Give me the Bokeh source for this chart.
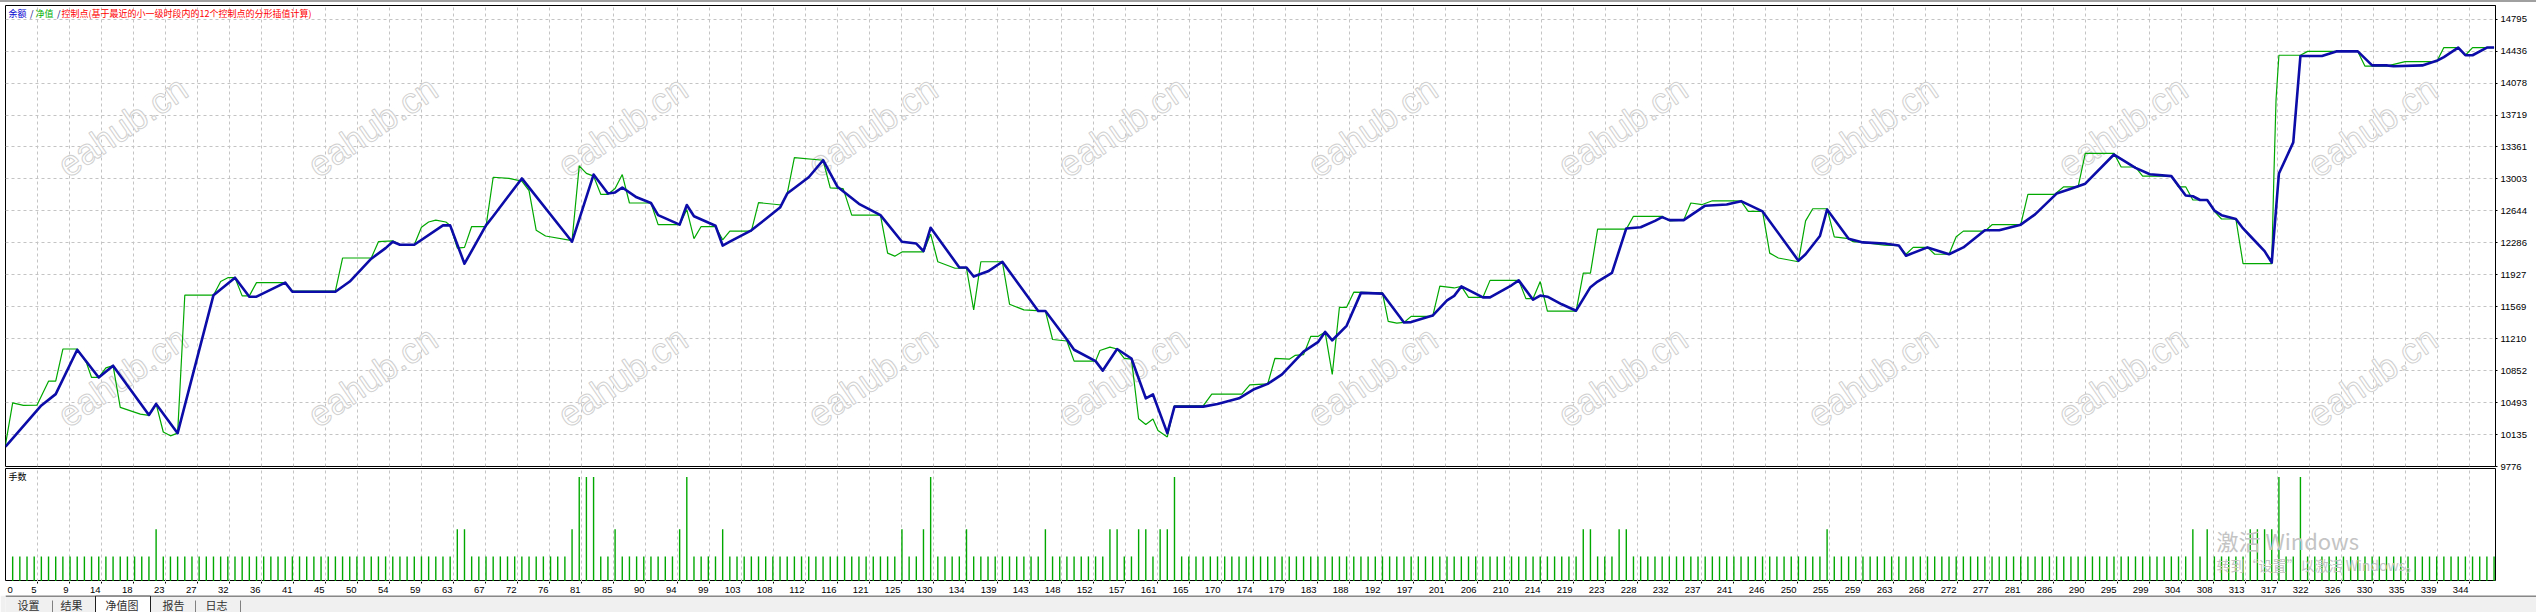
from bokeh.plotting import figure
from bokeh.layouts import column
from bokeh.models import Range1d, FixedTicker, Spacer
from bokeh.core.properties import value
from bokeh.embed import file_html
from bokeh.resources import INLINE

# x-axis tick labels (trade number at each vertical grid line)
x_labels = ["0", "5", "9", "14", "18", "23", "27", "32", "36", "41", "45", "50", "54", "59", "63", "67",
            "72", "76", "81", "85", "90", "94", "99", "103", "108", "112", "116", "121", "125", "130",
            "134", "139", "143", "148", "152", "157", "161", "165", "170", "174", "179", "183", "188",
            "192", "197", "201", "206", "210", "214", "219", "223", "228", "232", "237", "241", "246",
            "250", "255", "259", "263", "268", "272", "277", "281", "286", "290", "295", "299", "304",
            "308", "313", "317", "322", "326", "330", "335", "339", "344"]

# right axis ticks
y_ticks = [9776, 10135, 10493, 10852, 11210, 11569, 11927, 12286, 12644, 13003, 13361, 13719, 14078,
           14436, 14795]

# balance (blue), trade number -> value
bal_t = [0, 5, 7, 10, 13, 15, 20, 21, 24, 29,
         32, 34, 35, 39, 40, 46, 48, 51, 53, 54,
         55, 57, 61, 62, 64, 67, 68, 70, 72, 79,
         82, 84, 85, 86, 88, 90, 91, 94, 95, 96,
         99, 100, 101, 104, 106, 108, 109, 112, 114, 116,
         119, 122, 125, 127, 128, 129, 133, 134, 135, 137,
         139, 141, 144, 145, 148, 149, 152, 153, 155, 157,
         159, 160, 162, 163, 167, 169, 172, 174, 176, 178,
         181, 183, 184, 185, 187, 189, 192, 195, 196, 199,
         201, 202, 203, 206, 207, 210, 211, 213, 214, 215,
         217, 219, 221, 222, 224, 226, 228, 230, 231, 232,
         234, 237, 240, 242, 245, 250, 251, 253, 254, 257,
         259, 262, 264, 265, 268, 271, 273, 276, 278, 281,
         283, 286, 288, 290, 294, 297, 299, 302, 304, 305,
         306, 307, 308, 309, 311, 312, 313, 315, 316, 317,
         319, 320, 323, 325, 328, 330, 332, 333, 337, 339,
         340, 342, 343, 344, 346, 347]
bal_v = [10000, 10461, 10588, 11086, 10775, 10907, 10354, 10478, 10150, 11698,
         11894, 11681, 11681, 11839, 11737, 11737, 11851, 12107, 12226, 12298,
         12264, 12264, 12481, 12481, 12051, 12481, 12583, 12796, 13008, 12298,
         13051, 12838, 12851, 12906, 12796, 12732, 12596, 12489, 12710, 12583,
         12477, 12255, 12298, 12426, 12553, 12681, 12838, 13021, 13212, 12915,
         12723, 12596, 12298, 12277, 12192, 12455, 12009, 12009, 11907, 11966,
         12073, 11851, 11520, 11520, 11201, 11086, 10958, 10852, 11094, 10988,
         10541, 10584, 10150, 10448, 10448, 10478, 10541, 10639, 10703, 10810,
         11065, 11171, 11286, 11192, 11354, 11724, 11715, 11392, 11396, 11469,
         11639, 11690, 11796, 11673, 11673, 11809, 11864, 11647, 11694, 11681,
         11596, 11524, 11788, 11851, 11949, 12447, 12460, 12532, 12574, 12540,
         12540, 12702, 12715, 12753, 12638, 12085, 12157, 12362, 12659, 12332,
         12290, 12277, 12255, 12141, 12234, 12157, 12234, 12426, 12426, 12489,
         12604, 12838, 12893, 12949, 13276, 13127, 13055, 13034, 12817, 12808,
         12766, 12766, 12647, 12596, 12553, 12447, 12362, 12192, 12064, 13063,
         13412, 14382, 14382, 14433, 14433, 14276, 14276, 14267, 14276, 14327,
         14369, 14476, 14390, 14390, 14476, 14476]

# equity (green)
eq_t = [0, 1, 2.5, 4.4, 6, 7, 8, 10, 11.3, 12,
        13, 14, 15, 16, 18.8, 20, 21, 22, 23, 24,
        24.8, 25, 29, 30, 31, 32, 33, 34, 35, 39,
        40, 46, 47, 51, 52, 54, 55, 57, 58, 59,
        60, 61.4, 62, 63, 64, 65, 67, 68, 70.2, 72,
        73, 74, 75.3, 79, 80, 81, 82, 83, 84, 85,
        86, 87, 90, 91, 94, 95, 96, 97, 99, 100,
        101, 104, 105, 108.2, 109, 110, 114, 115, 116.8, 118,
        122, 123, 124, 125, 128, 129, 130, 132.4, 134, 135,
        136, 139, 140, 142, 145, 146, 148, 149, 152, 152.6,
        154, 155, 156, 157, 158, 159, 160, 160.7, 162, 163,
        167, 168.2, 172.4, 173.5, 176, 177, 179, 179.8, 181, 182,
        183, 184, 185, 186, 187, 188, 192, 192.8, 194, 195,
        196, 199, 200, 202, 203, 204, 206, 207, 211, 212,
        213, 214, 215, 219, 220, 221, 222, 226, 227, 231,
        232, 234, 235, 236.6, 238, 241, 242, 243, 245, 246,
        247.2, 250, 251, 252, 254, 255, 257, 257.6, 259, 262,
        264, 265, 266, 268, 269, 271, 272, 273, 276, 277, 281,
        282, 285.7, 287, 289, 290, 294, 295, 297, 298, 302,
        303, 304, 305, 307, 308, 309, 311, 312, 316, 316.3,
        316.6, 317, 320, 321, 328, 329, 332, 334.6, 339, 340,
        342, 343, 344, 347]
eq_v = [10020, 10490, 10461, 10465, 10733, 10733, 11094, 11094, 10937, 10775,
        10775, 10882, 10907, 10439, 10363, 10350, 10478, 10163, 10120, 10150,
        11384, 11698, 11698, 11851, 11894, 11894, 11690, 11690, 11839, 11839,
        11745, 11745, 12115, 12115, 12298, 12307, 12264, 12264, 12460, 12519,
        12540, 12519, 12481, 12226, 12234, 12468, 12468, 13021, 13008, 12978,
        12872, 12426, 12362, 12311, 13149, 13064, 13034, 12830, 12830, 12894,
        13051, 12732, 12732, 12489, 12489, 12659, 12332, 12468, 12468, 12319,
        12417, 12417, 12736, 12710, 12838, 13242, 13212, 12902, 12893, 12596,
        12596, 12170, 12136, 12183, 12183, 12383, 12073, 12000, 12000, 11533,
        12073, 12073, 11597, 11533, 11520, 11201, 11184, 10958, 10958, 11077,
        11116, 11094, 10988, 10980, 10312, 10248, 10308, 10180, 10108, 10456,
        10456, 10588, 10588, 10692, 10703, 10988, 10980, 11022, 11031, 11235,
        11235, 11286, 10810, 11562, 11562, 11732, 11724, 11405, 11384, 11392,
        11460, 11460, 11800, 11779, 11796, 11673, 11673, 11864, 11864, 11660,
        11660, 11851, 11520, 11520, 11945, 11945, 12439, 12439, 12583, 12583,
        12532, 12540, 12732, 12715, 12757, 12757, 12753, 12638, 12638, 12170,
        12115, 12073, 12532, 12668, 12668, 12353, 12332, 12298, 12290, 12260,
        12255, 12157, 12234, 12234, 12157, 12157, 12353, 12417, 12417, 12489, 12489,
        12829, 12829, 12914, 12914, 13289, 13289, 13136, 13136, 13034, 13034,
        12914, 12914, 12766, 12766, 12638, 12553, 12553, 12051, 12051, 13042,
        13893, 14390, 14390, 14433, 14433, 14267, 14267, 14318, 14318, 14476,
        14476, 14390, 14476, 14476]

# lot size of trades 1..347
lots = [0.12, 0.12, 0.12, 0.12, 0.12, 0.12, 0.12, 0.12, 0.12, 0.12, 0.12, 0.12, 0.12, 0.12, 0.12, 0.12, 0.12, 0.12, 0.12, 0.12,
        0.25, 0.12, 0.12, 0.12, 0.12, 0.12, 0.12, 0.12, 0.12, 0.12, 0.12, 0.12, 0.12, 0.12, 0.12, 0.12, 0.12, 0.12, 0.12, 0.12,
        0.12, 0.12, 0.12, 0.12, 0.12, 0.12, 0.12, 0.12, 0.12, 0.12, 0.12, 0.12, 0.12, 0.12, 0.12, 0.12, 0.12, 0.12, 0.12, 0.12,
        0.12, 0.12, 0.25, 0.25, 0.12, 0.12, 0.12, 0.12, 0.12, 0.12, 0.12, 0.12, 0.12, 0.12, 0.12, 0.12, 0.12, 0.12, 0.25, 0.5,
        0.5, 0.5, 0.12, 0.12, 0.25, 0.12, 0.12, 0.12, 0.12, 0.12, 0.12, 0.12, 0.12, 0.25, 0.5, 0.12, 0.12, 0.12, 0.12, 0.25,
        0.12, 0.12, 0.12, 0.12, 0.12, 0.12, 0.12, 0.12, 0.12, 0.12, 0.12, 0.12, 0.12, 0.12, 0.12, 0.12, 0.12, 0.12, 0.12, 0.12,
        0.12, 0.12, 0.12, 0.12, 0.25, 0.12, 0.12, 0.25, 0.5, 0.12, 0.12, 0.12, 0.12, 0.25, 0.12, 0.12, 0.12, 0.12, 0.12, 0.12,
        0.12, 0.12, 0.12, 0.12, 0.25, 0.12, 0.12, 0.12, 0.12, 0.12, 0.12, 0.12, 0.12, 0.25, 0.25, 0.12, 0.12, 0.25, 0.25, 0.12,
        0.25, 0.25, 0.5, 0.12, 0.12, 0.12, 0.12, 0.12, 0.12, 0.12, 0.12, 0.12, 0.12, 0.12, 0.12, 0.12, 0.12, 0.12, 0.12, 0.12,
        0.12, 0.12, 0.12, 0.12, 0.12, 0.12, 0.12, 0.12, 0.12, 0.12, 0.12, 0.12, 0.12, 0.12, 0.12, 0.12, 0.12, 0.12, 0.12, 0.12,
        0.12, 0.12, 0.12, 0.12, 0.12, 0.12, 0.12, 0.12, 0.12, 0.12, 0.12, 0.12, 0.12, 0.12, 0.12, 0.12, 0.12, 0.12, 0.12, 0.25,
        0.25, 0.12, 0.12, 0.12, 0.25, 0.25, 0.12, 0.12, 0.12, 0.12, 0.12, 0.12, 0.12, 0.12, 0.12, 0.12, 0.12, 0.12, 0.12, 0.12,
        0.12, 0.12, 0.12, 0.12, 0.12, 0.12, 0.12, 0.12, 0.12, 0.12, 0.12, 0.12, 0.12, 0.25, 0.12, 0.12, 0.12, 0.12, 0.12, 0.12,
        0.12, 0.12, 0.12, 0.12, 0.12, 0.12, 0.12, 0.12, 0.12, 0.12, 0.12, 0.12, 0.12, 0.12, 0.12, 0.12, 0.12, 0.12, 0.12, 0.12,
        0.12, 0.12, 0.12, 0.12, 0.12, 0.12, 0.12, 0.12, 0.12, 0.12, 0.12, 0.12, 0.12, 0.12, 0.12, 0.12, 0.12, 0.12, 0.12, 0.12,
        0.12, 0.12, 0.12, 0.12, 0.25, 0.12, 0.25, 0.12, 0.12, 0.12, 0.12, 0.12, 0.25, 0.25, 0.25, 0.25, 0.5, 0.12, 0.12, 0.5,
        0.12, 0.12, 0.12, 0.12, 0.12, 0.12, 0.12, 0.12, 0.12, 0.12, 0.12, 0.12, 0.12, 0.12, 0.12, 0.12, 0.12, 0.12, 0.12, 0.12,
        0.12, 0.12, 0.12, 0.12, 0.12, 0.12, 0.12]

legend_parts = ["余额", "/", "净值", "/", "控制点(基于最近的小一级时段内的12个控制点的分形插值计算)"]
legend_colors = ["#0000d0", "#000080", "#00b000", "#000080", "#ff0000"]
legend_px = [8, 29.5, 35, 56.5, 61]

tab_names = ["设置", "结果", "净值图", "报告", "日志"]
tab_px = [12, 55, 100, 157, 200]
tab_sep_px = [47, 190, 235]

BLUE = "#0c0ca8"
GREEN = "#00a800"
GRIDC = "#c4c4c4"
NUM_FONT = "Liberation Sans"
CJK_FONT = "Noto Sans CJK SC"

FRAME_W = 2490
Y0, Y1 = 9776, 14948
X_END = 347.2
PX_PER_TRADE = FRAME_W / X_END
GRID_STEP = 32 / PX_PER_TRADE
LOT_TOP = 0.5407

grid_x = [k * GRID_STEP for k in range(len(x_labels))]
xr = Range1d(0, X_END)


def tx(px):
    # screen x of the reference -> trade number
    return (px - 5) / PX_PER_TRADE


def vy(py):
    return Y1 - (py - 5) * (Y1 - Y0) / 461


def lvy(py):
    return (581 - py) * LOT_TOP / 113


def base_fig(h, yr, **kw):
    f = figure(frame_width=FRAME_W, frame_height=h, x_range=xr, y_range=yr,
               x_axis_location=None, min_border_left=5, min_border_right=41,
               output_backend="svg", toolbar_location=None,
               outline_line_color="black", background_fill_color="white", **kw)
    return f


# main panel (bottom border is taller so the "9776" label is not cut; the lots panel overlaps it)
main = base_fig(461, Range1d(Y0, Y1), y_axis_location="right", min_border_top=3, min_border_bottom=8,
                border_fill_color="white")
main.xgrid.ticker = FixedTicker(ticks=grid_x)
main.ygrid.ticker = FixedTicker(ticks=y_ticks)
for g in (main.xgrid, main.ygrid):
    g.grid_line_color = GRIDC
    g.grid_line_dash = "3 3"
ax = main.yaxis[0]
ax.ticker = FixedTicker(ticks=y_ticks)
ax.major_label_text_font = NUM_FONT
ax.major_label_text_font_size = "9.5px"
ax.major_label_text_color = "black"
ax.major_tick_out = 2
ax.major_tick_in = 0
ax.minor_tick_out = 0
ax.minor_tick_in = 0
ax.major_label_standoff = 3
ax.axis_line_color = "black"

wm_x = [tx(122 + 250 * i) for i in range(10) for r in (126, 376)]
wm_y = [vy(r) for i in range(10) for r in (126, 376)]
main.text(wm_x, wm_y, text=["eahub.cn"] * len(wm_x), angle=0.6,
          text_font=value("Liberation Sans"), text_font_size="36px",
          text_color="white", text_outline_color="#d0d0d0",
          text_align="center", text_baseline="middle")

main.line(eq_t, eq_v, line_color=GREEN, line_width=1.2)
main.line(bal_t, bal_v, line_color=BLUE, line_width=2.6, line_join="round")

for px, txt, col in zip(legend_px, legend_parts, legend_colors):
    main.text(x=[tx(px)], y=[vy(13)], text=[txt], text_color=col,
              text_font=value(CJK_FONT), text_font_size="9px", text_baseline="middle")

# lots panel
lots_fig = base_fig(113, Range1d(0, LOT_TOP), y_axis_location=None, min_border_top=0, min_border_bottom=0,
                    border_fill_color=None, margin=(-6, 0, 0, 0))
lots_fig.xgrid.ticker = FixedTicker(ticks=grid_x)
lots_fig.xgrid.grid_line_color = GRIDC
lots_fig.xgrid.grid_line_dash = "3 3"
lots_fig.ygrid.grid_line_color = None
trade_no = list(range(1, len(lots) + 1))
lots_fig.segment(x0=trade_no, y0=[0] * len(lots), x1=trade_no, y1=lots, line_color=GREEN, line_width=1.4)
lots_fig.text(x=[tx(8)], y=[lvy(476)], text=["手数"], text_color="black",
              text_font=value(CJK_FONT), text_font_size="9px", text_baseline="middle")
lots_fig.text(x=[tx(2216), tx(2216)], y=[lvy(539), lvy(564)],
              text=["激活 Windows", "转到“设置”以激活 Windows。"],
              text_font_size=["22px", "14px"], text_color="#c4c4c4",
              text_font=value(CJK_FONT), text_baseline="middle")

# x labels strip
lab = base_fig(14, Range1d(14, 0), y_axis_location=None, min_border_top=0, min_border_bottom=0,
               border_fill_color="white")
lab.outline_line_color = None
lab.grid.visible = False
n = len(grid_x) - 1
lab.segment(x0=grid_x[1:], y0=[0] * n, x1=grid_x[1:], y1=[2] * n, line_color="black")
lab.text(x=grid_x[1:], y=[8] * n, text=x_labels[1:], text_align="right", x_offset=-1,
         text_font=value(NUM_FONT), text_font_size="9.5px", text_color="black", text_baseline="middle")
lab.text(x=[grid_x[0]], y=[8], text=[x_labels[0]], text_align="left", x_offset=2,
         text_font=value(NUM_FONT), text_font_size="9.5px", text_color="black", text_baseline="middle")

# tab strip at the bottom
tabs = figure(frame_width=2536, frame_height=17, x_range=Range1d(0, 2536), y_range=Range1d(17, 0),
              x_axis_location=None, y_axis_location=None, min_border_left=0, min_border_right=0,
              min_border_top=0, min_border_bottom=0, output_backend="svg", toolbar_location=None,
              outline_line_color=None, background_fill_color="#f0f0f0", border_fill_color="#f0f0f0")
tabs.grid.visible = False
tabs.segment(x0=[0], y0=[0.5], x1=[2536], y1=[0.5], line_color="#202020")
tabs.quad(left=[90], right=[145], top=[0.5], bottom=[18], fill_color="white", line_color="#202020")
tabs.segment(x0=tab_sep_px, y0=[5] * 3, x1=tab_sep_px, y1=[17] * 3, line_color="#808080")
tabs.text(x=tab_px, y=[9] * len(tab_px), text=tab_names, text_color="#303030",
          text_font=value(CJK_FONT), text_font_size="11px", text_baseline="middle")

top_bar = Spacer(width=2536, height=2, styles={"background-color": "#a0a0a0"})

p = column(top_bar, main, lots_fig, lab, tabs)

open("out.html", "w", encoding="utf-8").write(file_html(p, INLINE))
